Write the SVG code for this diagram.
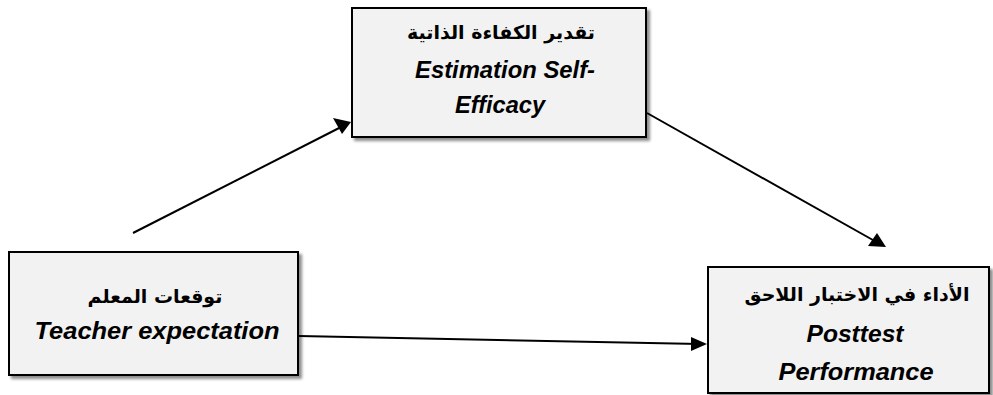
<svg xmlns="http://www.w3.org/2000/svg" width="993" height="395" viewBox="0 0 993 395">
<defs>
<filter id="sh" x="-5%" y="-5%" width="115%" height="120%">
<feGaussianBlur in="SourceAlpha" stdDeviation="1.5"/>
<feOffset dx="3" dy="3" result="b"/>
<feComponentTransfer><feFuncA type="linear" slope="0.45"/></feComponentTransfer>
<feMerge><feMergeNode/><feMergeNode in="SourceGraphic"/></feMerge>
</filter>
</defs>
<style>
.box{fill:#f2f2f2;stroke:#000;stroke-width:2;filter:url(#sh)}
.ar{font-family:"DejaVu Sans",sans-serif;font-weight:bold;font-size:19px;fill:#000;text-anchor:middle}
.en{font-family:"Liberation Sans",Arial,sans-serif;font-weight:bold;font-style:italic;font-size:24px;fill:#000;text-anchor:middle}
.c{stroke:#000;stroke-width:2;fill:none}
.hd{fill:#000}
</style>
<rect width="993" height="395" fill="#fff"/>
<g id="connectors">
<line class="c" x1="133" y1="233" x2="345" y2="125"/>
<path class="hd" d="M351,122 L333,118 L342,134 z"/>
<line class="c" x1="647" y1="113" x2="880" y2="244"/>
<path class="hd" d="M886,247 L868,246 L877,233 z"/>
<line class="c" x1="299" y1="336" x2="700" y2="344"/>
<path class="hd" d="M707,344 L691,351 L691,337 z"/>
</g>
<g id="node-self-efficacy">
<rect class="box" x="352" y="8" width="294" height="129"/>
<text class="ar" x="501" y="39" direction="rtl">تقدير الكفاءة الذاتية</text>
<text class="en" x="505" y="78" textLength="180" lengthAdjust="spacingAndGlyphs">Estimation Self-</text>
<text class="en" x="500" y="113" textLength="90" lengthAdjust="spacingAndGlyphs">Efficacy</text>
</g>
<g id="node-teacher">
<rect class="box" x="9" y="252" width="289" height="123"/>
<text class="ar" x="155" y="303" direction="rtl">توقعات المعلم</text>
<text class="en" x="157" y="339" textLength="245" lengthAdjust="spacingAndGlyphs">Teacher expectation</text>
</g>
<g id="node-posttest">
<rect class="box" x="708" y="267" width="281" height="126"/>
<text class="ar" x="857" y="301" direction="rtl">الأداء في الاختبار اللاحق</text>
<text class="en" x="855" y="342" textLength="97" lengthAdjust="spacingAndGlyphs">Posttest</text>
<text class="en" x="856" y="380" textLength="155" lengthAdjust="spacingAndGlyphs">Performance</text>
</g>
</svg>
